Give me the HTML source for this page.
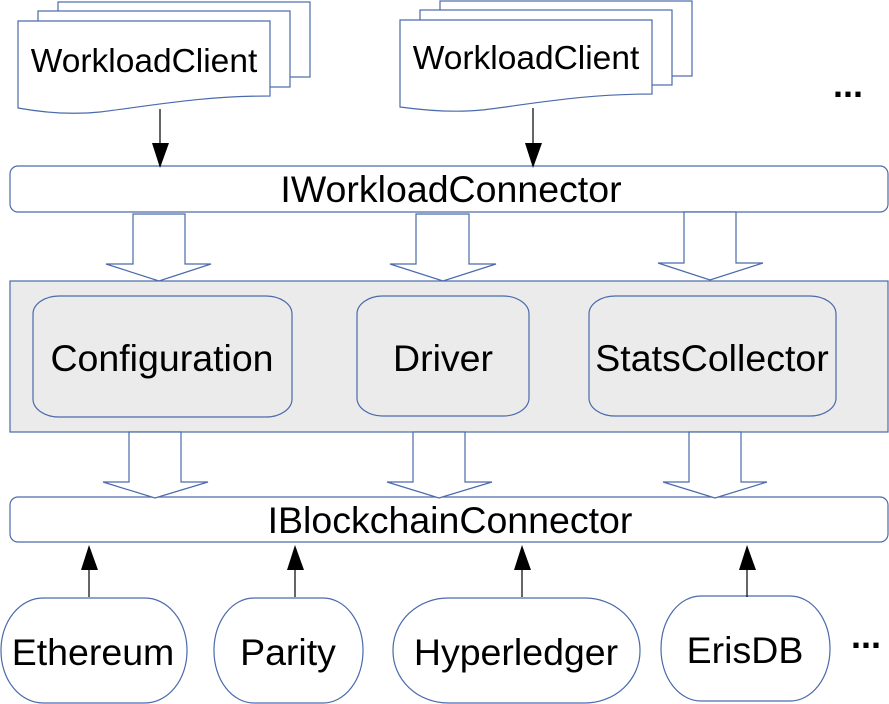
<!DOCTYPE html>
<html><head><meta charset="utf-8"><style>
body{margin:0;background:#fff}
svg{display:block}
text{font-family:"Liberation Sans",sans-serif;fill:#000}
</style></head><body>
<svg width="889" height="704" viewBox="0 0 889 704" xmlns="http://www.w3.org/2000/svg">
<g fill="#fff" stroke="#4a6aab" stroke-width="1.2">
<rect x="58" y="2" width="252" height="75"/>
<rect x="38" y="11" width="252" height="76"/>
<path d="M18,21 H270 V96 C200,96 150,106 100,112 C70,115 40,112 18,108 Z"/>
<rect x="440" y="1" width="252" height="75"/>
<rect x="420" y="10" width="252" height="75"/>
<path d="M400,20 H652 V94 C582,94 532,104 482,110 C452,113 422,110 400,107 Z"/>
<rect x="10" y="166" width="878" height="46" rx="8"/>
<rect x="10" y="497" width="878" height="45" rx="8"/>
<path d="M133,214 H185 V264 H211 L159,281 L106,264 H133 Z"/>
<path d="M416,214 H469 V264 H496 L443,281 L390,264 H416 Z"/>
<path d="M684,212 H736 V263 H763 L710,280 L658,263 H684 Z"/>
<rect x="10" y="281" width="878" height="151" fill="#ebebeb"/>
<rect x="33" y="296" width="259" height="121" rx="26" ry="18" fill="#ebebeb"/>
<rect x="357" y="296" width="172" height="120" rx="26" ry="18" fill="#ebebeb"/>
<rect x="589" y="296" width="247" height="120" rx="26" ry="18" fill="#ebebeb"/>
<path d="M129,432 H181 V482 H208 L155,498 L103,482 H129 Z"/>
<path d="M413,432 H465 V482 H492 L439,498 L387,482 H413 Z"/>
<path d="M689,432 H741 V482 H767 L715,498 L663,482 H689 Z"/>
<rect x="1" y="598" width="186" height="105" rx="42" ry="52"/>
<rect x="214" y="598" width="149" height="105" rx="40" ry="52"/>
<rect x="393" y="598" width="247" height="105" rx="55" ry="52"/>
<rect x="661" y="596" width="169" height="105" rx="40" ry="52"/>
</g>
<g stroke="#000" stroke-width="1.2">
<line x1="160" y1="109" x2="160" y2="150"/>
<line x1="533" y1="108" x2="533" y2="150"/>
<line x1="89" y1="597" x2="89" y2="565"/>
<line x1="295" y1="597" x2="295" y2="565"/>
<line x1="522" y1="597" x2="522" y2="565"/>
<line x1="747" y1="597" x2="747" y2="565"/>
</g>
<g fill="#000">
<path d="M152,143 H169 L160,168 Z"/>
<path d="M525,143 H542 L533,168 Z"/>
<path d="M81,570 H98 L89,545 Z"/>
<path d="M287,570 H304 L295,545 Z"/>
<path d="M514,570 H531 L522,545 Z"/>
<path d="M739,570 H756 L747,545 Z"/>
</g>
<g font-size="37.5" text-anchor="middle">
<text x="144" y="72" font-size="33.5">WorkloadClient</text>
<text x="526" y="69" font-size="33.5">WorkloadClient</text>
<text x="451" y="202">IWorkloadConnector</text>
<text x="450" y="533">IBlockchainConnector</text>
<text x="162" y="371">Configuration</text>
<text x="443" y="371">Driver</text>
<text x="712" y="371">StatsCollector</text>
<text x="93" y="665">Ethereum</text>
<text x="288" y="665">Parity</text>
<text x="516" y="665">Hyperledger</text>
<text x="745" y="663">ErisDB</text>
</g>
<g font-size="36" font-weight="bold">
<text x="833" y="97">...</text>
<text x="851" y="648">...</text>
</g>
</svg>
</body></html>
